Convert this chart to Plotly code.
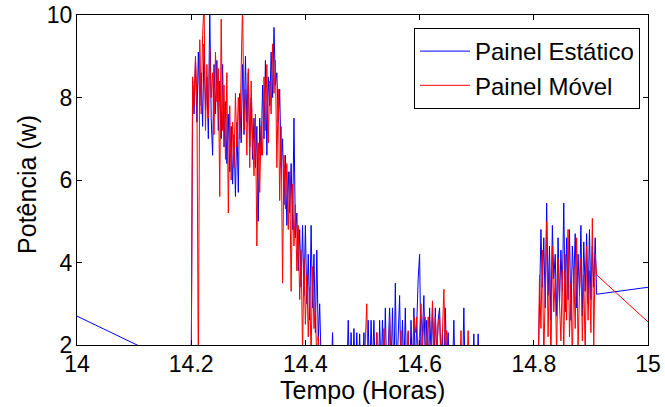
import numpy as np
import plotly.graph_objects as go

# ---- data ----
t_start = 14.2
t_step = 0.0025

painel_estatico = [
    1.37, 8.4, 7.6, 8.9, 7.4, 9.1, 7.8, 8.6, 7.3, 9.3, 7.7, 8.5, 7.0, 10.2, 7.5, 6.6, 8.8, 7.6, 8.9, 7.2,
    8.4, 7.0, 8.8, 6.8, 7.9, 6.4, 7.6, 6.2, 7.3, 5.9, 7.1, 5.6, 7.4, 5.7, 8.1, 6.9, 8.8, 7.1, 9.0, 7.4,
    8.6, 6.8, 8.0, 6.5, 7.5, 6.3, 7.3, 5.0, 7.5, 6.6, 8.3, 7.0, 8.9, 6.6, 8.5, 7.8, 9.1, 8.0, 9.7, 8.3,
    8.6, 7.4, 8.2, 6.3, 7.0, 5.4, 6.6, 4.9, 6.2, 5.2, 6.4, 4.8, 7.5, 4.6, 5.2, 3.8, 4.8, 3.4, 4.9, 3.2,
    4.9, 3.0, 4.2, 2.6, 4.9, 2.9, 4.2, 2.3, 4.3, 2.1, 3.0, 1.6, 1.2, 1.0, 1.1, 1.0, 1.2, 1.0, 1.1, 2.3,
    1.0, 1.1, 1.0, 1.2, 1.0, 1.1, 1.0, 1.1, 1.0, 1.2, 2.6, 1.0, 2.3, 1.1, 2.4, 1.0, 2.3, 1.1, 2.27, 1.0,
    1.2, 2.3, 1.0, 1.3, 2.6, 1.1, 2.6, 1.4, 2.6, 1.2, 2.3, 1.0, 2.6, 1.3, 2.6, 1.1, 2.9, 1.2, 1.9, 2.9,
    1.4, 2.9, 1.1, 3.5, 1.2, 2.3, 3.2, 1.1, 2.6, 1.3, 2.9, 1.0, 2.3, 1.1, 2.6, 1.2, 2.9, 1.4, 2.6, 3.6,
    4.2, 1.6, 2.3, 3.2, 1.5, 2.6, 1.2, 2.9, 1.8, 2.9, 1.3, 2.9, 1.6, 2.6, 2.9, 1.4, 2.3, 1.2, 2.9, 1.6,
    2.3, 1.1, 2.0, 1.3, 2.6, 1.0, 1.2, 1.0, 1.3, 1.0, 1.1, 2.9, 1.0, 1.2, 1.0, 1.1, 1.0, 1.1, 2.27, 1.0,
    1.1, 2.27, 1.0, 1.1, 1.0, 1.2, 1.0, 1.1, 1.0, 1.0, 1.1, 1.0, 1.2, 1.0, 1.1, 1.0, 1.0, 1.1, 1.0, 1.2,
    1.0, 1.1, 1.0, 1.0, 1.2, 1.0, 1.1, 1.0, 1.0, 1.1, 1.0, 1.2, 1.0, 1.1, 1.0, 1.0, 1.1, 1.0, 1.2, 1.0,
    1.0, 1.1, 1.0, 1.2, 3.0, 4.8, 3.4, 4.6, 2.9, 5.44, 3.2, 4.4, 2.6, 4.9, 3.6, 4.2, 2.7, 4.6, 3.0, 4.3,
    3.3, 5.44, 2.8, 4.6, 3.1, 4.8, 2.6, 4.4, 3.5, 4.7, 2.9, 4.2, 3.2, 4.9, 2.7, 4.5, 3.3, 4.7, 3.0, 4.8,
    3.1, 4.4, 3.4, 4.6, 3.23,
]

painel_movel = [
    1.0, 8.5, 7.8, 9.0, 8.0, 1.2, 9.4, 7.6, 9.5, 10.3, 7.2, 8.8, 7.5, 9.2, 8.0, 8.6, 7.1, 9.1, 7.9, 8.7,
    5.6, 9.9, 7.2, 8.3, 6.5, 8.6, 5.2, 7.8, 6.0, 7.4, 6.3, 8.1, 6.8, 8.0, 7.0, 8.6, 10.3, 7.2, 8.2, 6.6,
    8.7, 6.3, 8.4, 7.0, 6.1, 7.6, 4.4, 6.9, 5.7, 7.3, 6.6, 8.5, 7.2, 8.8, 6.9, 8.4, 7.6, 9.3, 8.1, 8.9,
    6.3, 8.2, 5.5, 7.3, 3.5, 6.6, 5.3, 6.4, 4.8, 6.2, 3.3, 5.9, 4.4, 5.4, 3.8, 4.9, 3.1, 4.3, 1.8, 4.1,
    2.5, 3.7, 2.2, 3.4, 1.7, 3.9, 2.4, 3.0, 1.5, 2.2, 1.4, 1.0, 1.1, 1.0, 1.2, 1.0, 1.1, 1.0, 1.2, 1.0,
    1.1, 1.0, 1.2, 1.0, 1.1, 1.0, 1.0, 1.2, 1.0, 1.1, 1.0, 1.2, 1.0, 1.1, 1.0, 1.0, 1.2, 1.0, 1.1, 1.0,
    1.0, 1.2, 2.35, 3.0, 1.1, 1.3, 1.0, 1.2, 1.4, 1.0, 2.3, 1.1, 1.2, 1.0, 1.3, 2.4, 1.1, 1.2, 1.0, 2.68,
    1.1, 1.3, 1.0, 1.2, 1.0, 1.4, 1.1, 2.35, 1.0, 1.2, 1.1, 1.3, 2.35, 1.0, 1.5, 1.2, 2.68, 2.3, 2.68, 1.6,
    2.4, 3.0, 1.8, 2.68, 2.68, 1.7, 2.68, 2.2, 1.6, 3.07, 2.0, 2.68, 1.8, 2.5, 2.68, 1.7, 2.3, 3.35, 1.9, 2.35,
    1.5, 1.8, 1.2, 1.4, 1.0, 1.2, 1.1, 1.0, 1.2, 2.35, 1.0, 1.1, 1.0, 1.3, 2.35, 1.0, 1.1, 1.0, 1.2, 1.0,
    1.1, 1.0, 1.2, 1.0, 1.0, 1.1, 1.0, 1.2, 1.0, 1.1, 1.0, 1.0, 1.2, 1.0, 1.1, 1.0, 1.0, 1.1, 1.0, 1.2,
    1.0, 1.1, 1.0, 1.0, 1.2, 1.0, 1.1, 1.0, 1.0, 1.1, 1.0, 1.2, 1.0, 1.1, 1.0, 1.0, 1.1, 1.0, 1.2, 1.0,
    1.0, 1.1, 1.0, 1.2, 3.7, 2.4, 4.3, 1.6, 3.5, 5.0, 2.2, 3.9, 1.5, 4.4, 2.8, 3.6, 1.7, 4.1, 3.0, 2.1,
    3.8, 1.8, 4.2, 2.6, 4.8, 2.2, 3.5, 1.6, 3.9, 2.4, 4.6, 1.9, 3.3, 4.1, 2.1, 3.7, 1.7, 4.4, 2.6, 3.8,
    2.3, 5.07, 2.0, 4.2, 3.70,
]

# isolated samples outside the dense record
estatico_before_t = [14.0]
estatico_before_v = [2.70]
estatico_after_t = [15.0]
estatico_after_v = [3.40]
movel_after_t = [15.0]
movel_after_v = [2.56]

x_ticks = [14, 14.2, 14.4, 14.6, 14.8, 15]
x_tick_labels = ["14", "14.2", "14.4", "14.6", "14.8", "15"]
y_ticks = [2, 4, 6, 8, 10]
y_tick_labels = ["2", "4", "6", "8", "10"]

x_title = "Tempo (Horas)"
y_title = "Potência (w)"

# ---- build ----
n = len(painel_estatico)
grid = list(np.round(t_start + t_step * np.arange(n), 4))
m = len(painel_movel)
grid_m = list(np.round(t_start + t_step * np.arange(m), 4))

FONT = "Liberation Sans, Arial, Helvetica, sans-serif"

fig = go.Figure()
fig.add_trace(go.Scatter(
    x=estatico_before_t + grid + estatico_after_t,
    y=estatico_before_v + painel_estatico + estatico_after_v,
    mode="lines", name="Painel Estático",
    line=dict(color="#0000FF", width=1),
))
fig.add_trace(go.Scatter(
    x=grid_m + movel_after_t,
    y=painel_movel + movel_after_v,
    mode="lines", name="Painel Móvel",
    line=dict(color="#FF0000", width=1),
))

axis_common = dict(
    showline=True, linecolor="black", linewidth=1, mirror="ticks",
    ticks="inside", ticklen=5, tickcolor="black", tickwidth=1,
    showgrid=False, zeroline=False, automargin=False,
    ticklabeloverflow="allow",
    tickfont=dict(family=FONT, size=23, color="black"),
)

fig.update_layout(
    width=665, height=407,
    margin=dict(l=77, r=17, t=15, b=62),
    paper_bgcolor="white", plot_bgcolor="white",
    font=dict(family=FONT, color="black"),
    xaxis=dict(range=[14, 15], tickvals=x_ticks, ticktext=x_tick_labels,
               ticklabelstandoff=-2, **axis_common),
    yaxis=dict(range=[2, 10], tickvals=y_ticks, ticktext=y_tick_labels,
               ticklabelstandoff=-1, **axis_common),
    legend=dict(x=0.986, y=0.9606, xanchor="right", yanchor="top",
                bgcolor="white", bordercolor="black", borderwidth=1,
                font=dict(family=FONT, size=24, color="black"),
                itemwidth=50, tracegroupgap=0),
    showlegend=True,
    annotations=[
        dict(text=x_title, xref="paper", yref="paper", x=0.5, y=-0.135,
             xanchor="center", yanchor="middle", showarrow=False,
             font=dict(family=FONT, size=25, color="black")),
        dict(text=y_title, xref="paper", yref="paper", x=-0.0876, y=0.488,
             xanchor="center", yanchor="middle", showarrow=False, textangle=-90,
             font=dict(family=FONT, size=25, color="black")),
    ],
)

fig.write_html("out.html", config={"displayModeBar": False},
               post_script="document.body.style.margin='0px';")
